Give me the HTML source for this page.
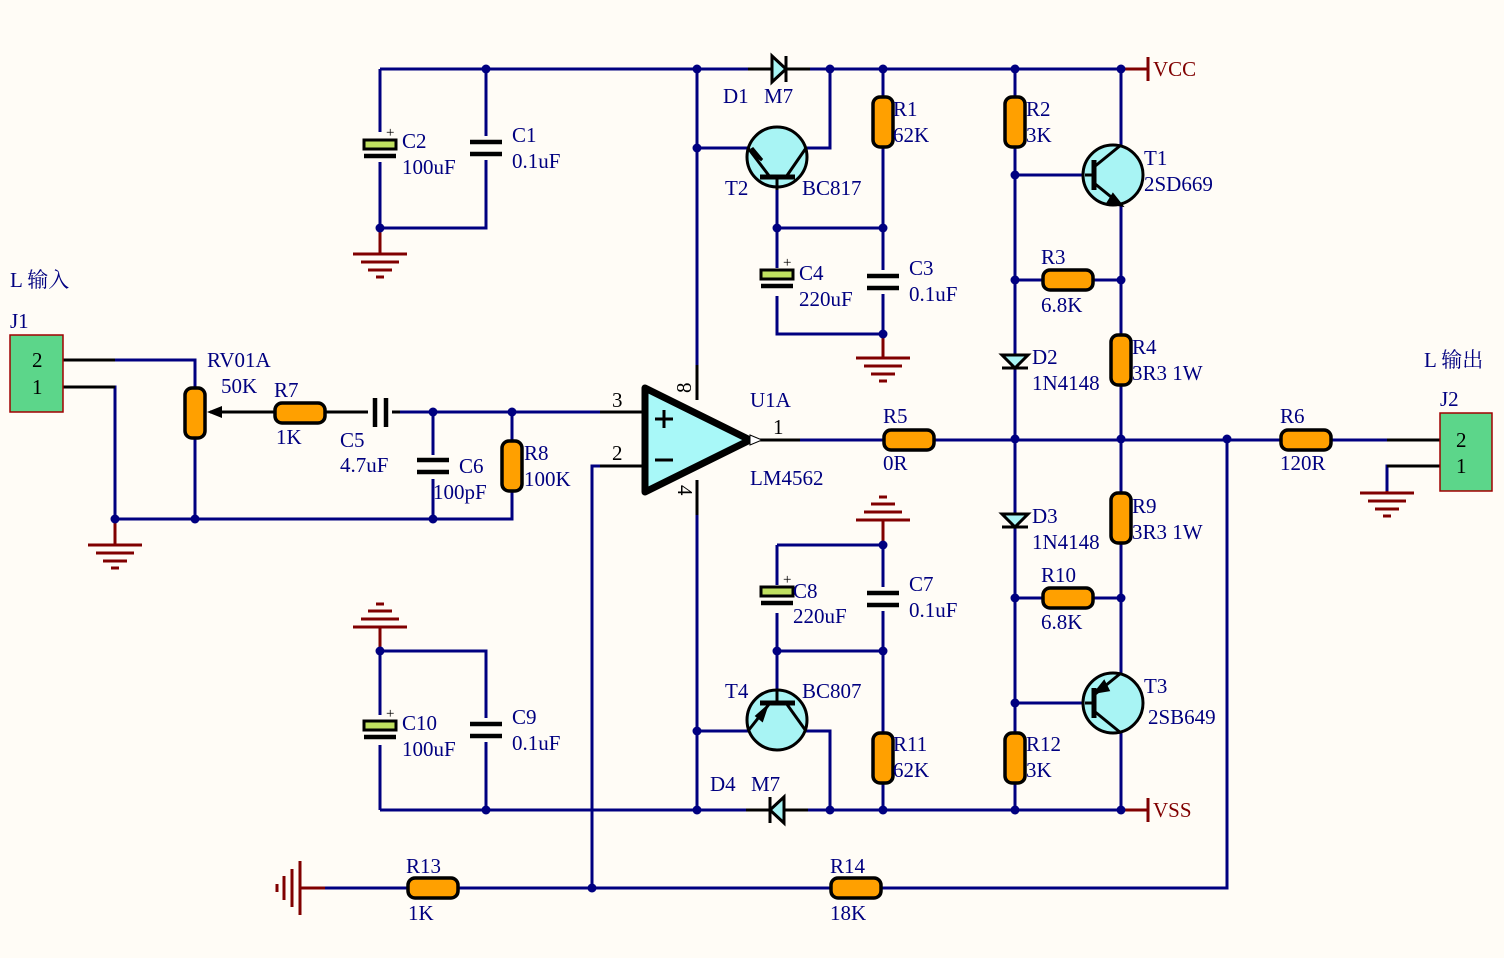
<!DOCTYPE html>
<html><head><meta charset="utf-8"><style>
html,body{margin:0;padding:0;background:#FFFCF6;}
svg{display:block}
text{font-family:"Liberation Serif","Noto Serif CJK SC",serif;font-size:21px;fill:#000080}
.k{fill:#000}
.r{fill:#800000}
</style></head><body>
<svg width="1504" height="958" viewBox="0 0 1504 958" xmlns="http://www.w3.org/2000/svg">
<defs>
<g id="rh"><rect x="-25" y="-10" width="50" height="20" rx="7" fill="#FFA000" stroke="#000" stroke-width="3.5"/></g>
<g id="rv"><rect x="-10" y="-25" width="20" height="50" rx="7" fill="#FFA000" stroke="#000" stroke-width="3.5"/></g>
<g id="gnd" stroke="#800000" stroke-width="3"><line x1="-27" y1="0" x2="27" y2="0"/><line x1="-19" y1="8" x2="19" y2="8"/><line x1="-12" y1="16" x2="12" y2="16"/><line x1="-4" y1="23" x2="4" y2="23"/></g>
<g id="capv"><line x1="-16" y1="-6" x2="16" y2="-6" stroke="#000" stroke-width="4.5"/><line x1="-16" y1="6" x2="16" y2="6" stroke="#000" stroke-width="4.5"/></g>
<g id="ecap"><rect x="-16" y="-12" width="32" height="9" fill="#C0E060" stroke="#000" stroke-width="3"/><line x1="-16" y1="4" x2="16" y2="4" stroke="#000" stroke-width="4.5"/><text x="6" y="-15" class="k" style="font-size:15px">+</text></g>
</defs>

<g stroke="#000080" stroke-width="3" fill="none">
<path d="M380 69H1122"/>
<path d="M380 69V228H486V69"/>
<path d="M697 69V388"/>
<path d="M697 492V810"/>
<path d="M697 148H748"/>
<path d="M806 148H830V69"/>
<path d="M777 185V334H883V69"/>
<path d="M777 228H883"/>
<path d="M1015 69V810"/>
<path d="M1015 175H1085"/>
<path d="M1121 69V145"/>
<path d="M1121 205V810"/>
<path d="M1015 280H1121"/>
<path d="M1015 598H1121"/>
<path d="M1015 703H1085"/>
<path d="M752 440H1227V888H300"/>
<path d="M1227 440H1440"/>
<path d="M1440 466H1387V491"/>
<path d="M380 810H1122"/>
<path d="M380 651V810M380 651H486V810"/>
<path d="M777 545H883V810"/>
<path d="M777 545V692"/>
<path d="M777 651H883"/>
<path d="M697 731H748"/>
<path d="M806 731H830V810"/>
<path d="M63 360H195V388"/>
<path d="M63 387H115V519H512V412"/>
<path d="M195 438V519"/>
<path d="M210 412H645"/>
<path d="M433 412V519"/>
<path d="M645 466H592V888"/>
</g>
<g stroke="#000" stroke-width="3">
<line x1="63" y1="360" x2="115" y2="360"/><line x1="63" y1="387" x2="115" y2="387"/>
<line x1="600" y1="412" x2="645" y2="412"/><line x1="600" y1="466" x2="645" y2="466"/>
<line x1="697" y1="365" x2="697" y2="400"/><line x1="697" y1="480" x2="697" y2="515"/>
<line x1="752" y1="440" x2="800" y2="440"/>
<line x1="1387" y1="440" x2="1440" y2="440"/><line x1="1387" y1="466" x2="1440" y2="466"/>
<line x1="210" y1="412" x2="400" y2="412"/>
</g>
<g stroke="#FFFCF6" stroke-width="5">
<line x1="764" y1="69" x2="794" y2="69"/><line x1="762" y1="810" x2="792" y2="810"/>
</g>
<g stroke="#000" stroke-width="3">
<line x1="748" y1="69" x2="772" y2="69"/><line x1="787" y1="69" x2="810" y2="69"/>
<line x1="746" y1="810" x2="769" y2="810"/><line x1="784" y1="810" x2="808" y2="810"/>
</g>

<line x1="380" y1="228" x2="380" y2="254" stroke="#800000" stroke-width="3"/><use href="#gnd" x="380" y="254"/>
<line x1="115" y1="519" x2="115" y2="545" stroke="#800000" stroke-width="3"/><use href="#gnd" x="115" y="545"/>
<line x1="883" y1="334" x2="883" y2="358" stroke="#800000" stroke-width="3"/><use href="#gnd" x="883" y="358"/>
<line x1="1387" y1="491" x2="1387" y2="493" stroke="#800000" stroke-width="3"/><use href="#gnd" x="1387" y="493"/>
<line x1="380" y1="651" x2="380" y2="627" stroke="#800000" stroke-width="3"/><use href="#gnd" transform="translate(380 627) scale(1 -1)"/>
<line x1="883" y1="545" x2="883" y2="520" stroke="#800000" stroke-width="3"/><use href="#gnd" transform="translate(883 520) scale(1 -1)"/>
<line x1="300" y1="888" x2="325" y2="888" stroke="#800000" stroke-width="3"/><use href="#gnd" transform="translate(300 888) rotate(90)"/>
<g stroke="#800000" stroke-width="3"><line x1="1122" y1="69" x2="1148" y2="69"/><line x1="1148" y1="57" x2="1148" y2="81"/><line x1="1122" y1="810" x2="1148" y2="810"/><line x1="1148" y1="798" x2="1148" y2="822"/></g>
<text x="1153" y="76" class="r">VCC</text><text x="1153" y="817" class="r">VSS</text>

<use href="#rv" x="195" y="413"/>
<use href="#rh" x="300" y="413"/>
<use href="#rv" x="512" y="466"/>
<use href="#rv" x="883" y="122"/>
<use href="#rv" x="1015" y="122"/>
<use href="#rh" x="1068" y="280"/>
<use href="#rv" x="1121" y="360"/>
<use href="#rh" x="909" y="440"/>
<use href="#rh" x="1306" y="440"/>
<use href="#rv" x="1121" y="518"/>
<use href="#rh" x="1068" y="598"/>
<use href="#rv" x="1015" y="758"/>
<use href="#rv" x="883" y="758"/>
<use href="#rh" x="433" y="888"/>
<use href="#rh" x="856" y="888"/>
<polygon points="207,412 222,406 222,418" fill="#000"/>
<rect x="368" y="395" width="24" height="35" fill="#FFFCF6"/>
<line x1="375" y1="398" x2="375" y2="427" stroke="#000" stroke-width="4.5"/><line x1="386" y1="398" x2="386" y2="427" stroke="#000" stroke-width="4.5"/>
<rect x="364" y="132" width="32" height="30" fill="#FFFCF6"/><use href="#ecap" x="380" y="152"/>
<rect x="470" y="136" width="32" height="24" fill="#FFFCF6"/><use href="#capv" x="486" y="148"/>
<rect x="761" y="268" width="32" height="28" fill="#FFFCF6"/><use href="#ecap" x="777" y="282"/>
<rect x="867" y="270" width="32" height="24" fill="#FFFCF6"/><use href="#capv" x="883" y="282"/>
<rect x="417" y="455" width="32" height="24" fill="#FFFCF6"/><use href="#capv" x="433" y="466"/>
<rect x="761" y="585" width="32" height="28" fill="#FFFCF6"/><use href="#ecap" x="777" y="599"/>
<rect x="867" y="587" width="32" height="24" fill="#FFFCF6"/><use href="#capv" x="883" y="599"/>
<rect x="364" y="715" width="32" height="30" fill="#FFFCF6"/><use href="#ecap" x="380" y="733"/>
<rect x="470" y="718" width="32" height="24" fill="#FFFCF6"/><use href="#capv" x="486" y="730"/>

<g stroke="#000" stroke-width="3" fill="#A8F4F4">
<polygon points="772,56 772,82 786,69"/><line x1="786" y1="56" x2="786" y2="82"/>
<polygon points="784,797 784,823 770,810"/><line x1="770" y1="797" x2="770" y2="823"/>
<polygon points="1002,355 1028,355 1015,368"/><line x1="1002" y1="368" x2="1028" y2="368"/>
<polygon points="1002,514 1028,514 1015,527"/><line x1="1002" y1="527" x2="1028" y2="527"/>
</g>

<g stroke="#000" stroke-width="3">
<circle cx="777" cy="157" r="30" fill="#A8F4F4"/>
<line x1="760" y1="177" x2="795" y2="177" stroke-width="5"/><line x1="777" y1="177" x2="777" y2="190"/>
<line x1="748" y1="148" x2="770" y2="177"/><line x1="806" y1="148" x2="786" y2="177"/>
<polygon points="755,155 752,148 762,160" fill="#000"/>
<circle cx="777" cy="720" r="30" fill="#A8F4F4"/>
<line x1="760" y1="703" x2="795" y2="703" stroke-width="5"/><line x1="777" y1="703" x2="777" y2="690"/>
<line x1="748" y1="731" x2="770" y2="703"/><line x1="806" y1="731" x2="786" y2="703"/>
<polygon points="766,708 757,716 762,720" fill="#000"/>
<circle cx="1113" cy="175" r="30" fill="#A8F4F4"/>
<line x1="1094" y1="160" x2="1094" y2="190" stroke-width="5"/><line x1="1085" y1="175" x2="1094" y2="175"/>
<line x1="1094" y1="167" x2="1121" y2="145"/><line x1="1094" y1="183" x2="1121" y2="205"/>
<polygon points="1121,205 1108,203 1113,195" fill="#000"/>
<circle cx="1113" cy="703" r="30" fill="#A8F4F4"/>
<line x1="1094" y1="688" x2="1094" y2="718" stroke-width="5"/><line x1="1085" y1="703" x2="1094" y2="703"/>
<line x1="1094" y1="695" x2="1121" y2="673"/><line x1="1094" y1="711" x2="1121" y2="733"/>
<polygon points="1096,692 1104,682 1108,690" fill="#000"/>
</g>

<polygon points="645,388 645,492 750,440" fill="#A8F8F8" stroke="#000" stroke-width="7" stroke-linejoin="round"/>
<polygon points="750,435 762,440 750,445" fill="#fff" stroke="#000" stroke-width="1"/>
<line x1="655" y1="419" x2="673" y2="419" stroke="#000" stroke-width="3"/><line x1="664" y1="410" x2="664" y2="428" stroke="#000" stroke-width="3"/>
<line x1="655" y1="460" x2="673" y2="460" stroke="#000" stroke-width="3"/>

<rect x="10" y="335" width="53" height="77" fill="#5CD68A" stroke="#A00000" stroke-width="1.5"/>
<rect x="1440" y="413" width="52" height="78" fill="#5CD68A" stroke="#A00000" stroke-width="1.5"/>

<g fill="#000080">
<circle cx="486" cy="69" r="4.5"/><circle cx="697" cy="69" r="4.5"/><circle cx="830" cy="69" r="4.5"/><circle cx="883" cy="69" r="4.5"/><circle cx="1015" cy="69" r="4.5"/><circle cx="1121" cy="69" r="4.5"/>
<circle cx="697" cy="148" r="4.5"/><circle cx="380" cy="228" r="4.5"/><circle cx="883" cy="228" r="4.5"/><circle cx="777" cy="228" r="4.5"/><circle cx="883" cy="334" r="4.5"/>
<circle cx="1015" cy="175" r="4.5"/><circle cx="1015" cy="280" r="4.5"/><circle cx="1121" cy="280" r="4.5"/>
<circle cx="1015" cy="439" r="4.5"/><circle cx="1121" cy="439" r="4.5"/><circle cx="1227" cy="439" r="4.5"/>
<circle cx="433" cy="412" r="4.5"/><circle cx="512" cy="412" r="4.5"/><circle cx="115" cy="519" r="4.5"/><circle cx="195" cy="519" r="4.5"/><circle cx="433" cy="519" r="4.5"/>
<circle cx="883" cy="545" r="4.5"/><circle cx="1015" cy="598" r="4.5"/><circle cx="1121" cy="598" r="4.5"/><circle cx="777" cy="651" r="4.5"/><circle cx="883" cy="651" r="4.5"/><circle cx="380" cy="651" r="4.5"/>
<circle cx="697" cy="731" r="4.5"/><circle cx="1015" cy="703" r="4.5"/>
<circle cx="486" cy="810" r="4.5"/><circle cx="697" cy="810" r="4.5"/><circle cx="830" cy="810" r="4.5"/><circle cx="883" cy="810" r="4.5"/><circle cx="1015" cy="810" r="4.5"/><circle cx="1121" cy="810" r="4.5"/>
<circle cx="592" cy="888" r="4.5"/>
</g>

<text x="723" y="103">D1</text><text x="764" y="103">M7</text>
<text x="725" y="195">T2</text><text x="802" y="195">BC817</text>
<text x="893" y="116">R1</text><text x="893" y="142">62K</text>
<text x="1026" y="116">R2</text><text x="1026" y="142">3K</text>
<text x="1144" y="165">T1</text><text x="1144" y="191">2SD669</text>
<text x="402" y="148">C2</text><text x="402" y="174">100uF</text>
<text x="512" y="142">C1</text><text x="512" y="168">0.1uF</text>
<text x="799" y="280">C4</text><text x="799" y="306">220uF</text>
<text x="909" y="275">C3</text><text x="909" y="301">0.1uF</text>
<text x="1041" y="264">R3</text><text x="1041" y="312">6.8K</text>
<text x="1032" y="364">D2</text><text x="1032" y="390">1N4148</text>
<text x="1132" y="354">R4</text><text x="1132" y="380">3R3 1W</text>
<text x="10" y="287">L 输入</text><text x="10" y="328">J1</text>
<text x="1424" y="367">L 输出</text><text x="1440" y="406">J2</text>
<text x="32" y="367" class="k">2</text><text x="32" y="394" class="k">1</text>
<text x="1456" y="447" class="k">2</text><text x="1456" y="473" class="k">1</text>
<text x="207" y="367">RV01A</text><text x="221" y="393">50K</text>
<text x="274" y="397">R7</text><text x="276" y="444">1K</text>
<text x="340" y="447">C5</text><text x="340" y="472">4.7uF</text>
<text x="459" y="473">C6</text><text x="433" y="499">100pF</text>
<text x="524" y="460">R8</text><text x="524" y="486">100K</text>
<text x="612" y="407" class="k">3</text><text x="612" y="460" class="k">2</text>
<text x="750" y="407">U1A</text><text x="773" y="434" class="k">1</text><text x="750" y="485">LM4562</text>
<text class="k" transform="translate(691 393) rotate(-90)">8</text>
<text class="k" transform="translate(678 485) rotate(90)">4</text>
<text x="883" y="423">R5</text><text x="883" y="470">0R</text>
<text x="1280" y="423">R6</text><text x="1280" y="470">120R</text>
<text x="1032" y="523">D3</text><text x="1032" y="549">1N4148</text>
<text x="1132" y="513">R9</text><text x="1132" y="539">3R3 1W</text>
<text x="793" y="598">C8</text><text x="793" y="623">220uF</text>
<text x="909" y="591">C7</text><text x="909" y="617">0.1uF</text>
<text x="1041" y="582">R10</text><text x="1041" y="629">6.8K</text>
<text x="725" y="698">T4</text><text x="802" y="698">BC807</text>
<text x="1144" y="693">T3</text><text x="1148" y="724">2SB649</text>
<text x="402" y="730">C10</text><text x="402" y="756">100uF</text>
<text x="512" y="724">C9</text><text x="512" y="750">0.1uF</text>
<text x="893" y="751">R11</text><text x="893" y="777">62K</text>
<text x="1026" y="751">R12</text><text x="1026" y="777">3K</text>
<text x="710" y="791">D4</text><text x="751" y="791">M7</text>
<text x="406" y="873">R13</text><text x="408" y="920">1K</text>
<text x="830" y="873">R14</text><text x="830" y="920">18K</text>
</svg>
</body></html>
